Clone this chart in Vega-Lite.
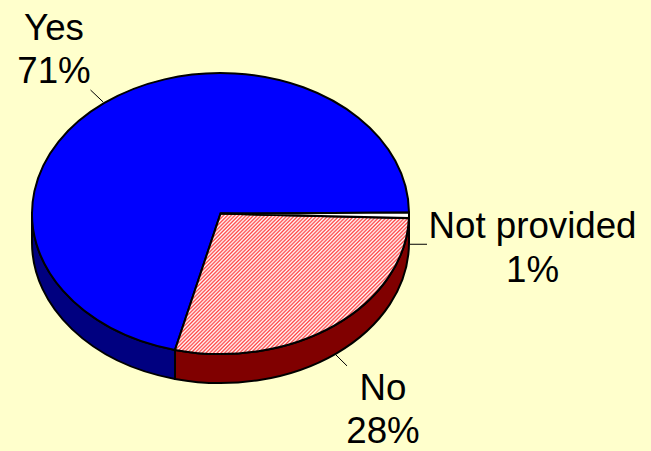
{"$schema":"https://vega.github.io/schema/vega-lite/v6.json","width":651,"height":451,"autosize":{"type":"fit","contains":"padding"},"padding":0,"background":"#FFFFCC","view":{"stroke":null},"config":{"style":{"cell":{"stroke":null}}},"data":{"values":[{"slice":"Yes","pct":71},{"slice":"No","pct":28},{"slice":"Not provided","pct":1}]},"encoding":{"x":{"datum":0,"type":"quantitative","scale":{"domain":[-220.5,430.5],"nice":false,"zero":false},"axis":null},"y":{"datum":0,"type":"quantitative","scale":{"domain":[-216,235],"reverse":true,"nice":false,"zero":false},"axis":null}},"layer":[{"transform":[{"filter":"datum.slice === 'Yes'"}],"mark":{"type":"point","filled":true,"opacity":1,"size":4,"fill":"#000080","stroke":"#000000","strokeWidth":2,"shape":"M-188.5 0 A188.5 140.5 0 0 0 -45.5 136.3 L-45.5 165.3 A188.5 140.5 0 0 1 -188.5 29 Z"}},{"transform":[{"filter":"datum.slice === 'No'"}],"mark":{"type":"point","filled":true,"opacity":1,"size":4,"fill":"#800000","stroke":"#000000","strokeWidth":2,"shape":"M-45.5 136.3 A188.5 140.5 0 0 0 188.5 0 L188.5 29 A188.5 140.5 0 0 1 -45.5 165.3 Z"}},{"transform":[{"filter":"datum.slice === 'Yes'"}],"mark":{"type":"point","filled":true,"opacity":1,"size":4,"fill":"#0000FF","stroke":"#000000","strokeWidth":2,"shape":"M0 0 L188.5 -1 A188.5 140.5 0 1 0 -45.5 136.3 Z"}},{"transform":[{"filter":"datum.slice === 'No'"}],"mark":{"type":"point","filled":true,"opacity":1,"size":4,"stroke":"#000000","strokeWidth":2,"shape":"M0 0 L-45.5 136.3 A188.5 140.5 0 0 0 188.4 4.5 Z","fill":{"gradient":"linear","x1":0,"y1":0,"x2":1.176,"y2":0.706,"stops":[{"offset":0,"color":"#fff"},{"offset":0.005,"color":"#f44"},{"offset":0.01,"color":"#fff"},{"offset":0.015,"color":"#f44"},{"offset":0.02,"color":"#fff"},{"offset":0.025,"color":"#f44"},{"offset":0.03,"color":"#fff"},{"offset":0.035,"color":"#f44"},{"offset":0.04,"color":"#fff"},{"offset":0.045,"color":"#f44"},{"offset":0.05,"color":"#fff"},{"offset":0.055,"color":"#f44"},{"offset":0.06,"color":"#fff"},{"offset":0.065,"color":"#f44"},{"offset":0.07,"color":"#fff"},{"offset":0.075,"color":"#f44"},{"offset":0.08,"color":"#fff"},{"offset":0.085,"color":"#f44"},{"offset":0.09,"color":"#fff"},{"offset":0.095,"color":"#f44"},{"offset":0.1,"color":"#fff"},{"offset":0.105,"color":"#f44"},{"offset":0.11,"color":"#fff"},{"offset":0.115,"color":"#f44"},{"offset":0.12,"color":"#fff"},{"offset":0.125,"color":"#f44"},{"offset":0.13,"color":"#fff"},{"offset":0.135,"color":"#f44"},{"offset":0.14,"color":"#fff"},{"offset":0.145,"color":"#f44"},{"offset":0.15,"color":"#fff"},{"offset":0.155,"color":"#f44"},{"offset":0.16,"color":"#fff"},{"offset":0.165,"color":"#f44"},{"offset":0.17,"color":"#fff"},{"offset":0.175,"color":"#f44"},{"offset":0.18,"color":"#fff"},{"offset":0.185,"color":"#f44"},{"offset":0.19,"color":"#fff"},{"offset":0.195,"color":"#f44"},{"offset":0.2,"color":"#fff"},{"offset":0.205,"color":"#f44"},{"offset":0.21,"color":"#fff"},{"offset":0.215,"color":"#f44"},{"offset":0.22,"color":"#fff"},{"offset":0.225,"color":"#f44"},{"offset":0.23,"color":"#fff"},{"offset":0.235,"color":"#f44"},{"offset":0.24,"color":"#fff"},{"offset":0.245,"color":"#f44"},{"offset":0.25,"color":"#fff"},{"offset":0.255,"color":"#f44"},{"offset":0.26,"color":"#fff"},{"offset":0.265,"color":"#f44"},{"offset":0.27,"color":"#fff"},{"offset":0.275,"color":"#f44"},{"offset":0.28,"color":"#fff"},{"offset":0.285,"color":"#f44"},{"offset":0.29,"color":"#fff"},{"offset":0.295,"color":"#f44"},{"offset":0.3,"color":"#fff"},{"offset":0.305,"color":"#f44"},{"offset":0.31,"color":"#fff"},{"offset":0.315,"color":"#f44"},{"offset":0.32,"color":"#fff"},{"offset":0.325,"color":"#f44"},{"offset":0.33,"color":"#fff"},{"offset":0.335,"color":"#f44"},{"offset":0.34,"color":"#fff"},{"offset":0.345,"color":"#f44"},{"offset":0.35,"color":"#fff"},{"offset":0.355,"color":"#f44"},{"offset":0.36,"color":"#fff"},{"offset":0.365,"color":"#f44"},{"offset":0.37,"color":"#fff"},{"offset":0.375,"color":"#f44"},{"offset":0.38,"color":"#fff"},{"offset":0.385,"color":"#f44"},{"offset":0.39,"color":"#fff"},{"offset":0.395,"color":"#f44"},{"offset":0.4,"color":"#fff"},{"offset":0.405,"color":"#f44"},{"offset":0.41,"color":"#fff"},{"offset":0.415,"color":"#f44"},{"offset":0.42,"color":"#fff"},{"offset":0.425,"color":"#f44"},{"offset":0.43,"color":"#fff"},{"offset":0.435,"color":"#f44"},{"offset":0.44,"color":"#fff"},{"offset":0.445,"color":"#f44"},{"offset":0.45,"color":"#fff"},{"offset":0.455,"color":"#f44"},{"offset":0.46,"color":"#fff"},{"offset":0.465,"color":"#f44"},{"offset":0.47,"color":"#fff"},{"offset":0.475,"color":"#f44"},{"offset":0.48,"color":"#fff"},{"offset":0.485,"color":"#f44"},{"offset":0.49,"color":"#fff"},{"offset":0.495,"color":"#f44"},{"offset":0.5,"color":"#fff"},{"offset":0.505,"color":"#f44"},{"offset":0.51,"color":"#fff"},{"offset":0.515,"color":"#f44"},{"offset":0.52,"color":"#fff"},{"offset":0.525,"color":"#f44"},{"offset":0.53,"color":"#fff"},{"offset":0.535,"color":"#f44"},{"offset":0.54,"color":"#fff"},{"offset":0.545,"color":"#f44"},{"offset":0.55,"color":"#fff"},{"offset":0.555,"color":"#f44"},{"offset":0.56,"color":"#fff"},{"offset":0.565,"color":"#f44"},{"offset":0.57,"color":"#fff"},{"offset":0.575,"color":"#f44"},{"offset":0.58,"color":"#fff"},{"offset":0.585,"color":"#f44"},{"offset":0.59,"color":"#fff"},{"offset":0.595,"color":"#f44"},{"offset":0.6,"color":"#fff"},{"offset":0.605,"color":"#f44"},{"offset":0.61,"color":"#fff"},{"offset":0.615,"color":"#f44"},{"offset":0.62,"color":"#fff"},{"offset":0.625,"color":"#f44"},{"offset":0.63,"color":"#fff"},{"offset":0.635,"color":"#f44"},{"offset":0.64,"color":"#fff"},{"offset":0.645,"color":"#f44"},{"offset":0.65,"color":"#fff"},{"offset":0.655,"color":"#f44"},{"offset":0.66,"color":"#fff"},{"offset":0.665,"color":"#f44"},{"offset":0.67,"color":"#fff"},{"offset":0.675,"color":"#f44"},{"offset":0.68,"color":"#fff"},{"offset":0.685,"color":"#f44"},{"offset":0.69,"color":"#fff"},{"offset":0.695,"color":"#f44"},{"offset":0.7,"color":"#fff"},{"offset":0.705,"color":"#f44"},{"offset":0.71,"color":"#fff"},{"offset":0.715,"color":"#f44"},{"offset":0.72,"color":"#fff"},{"offset":0.725,"color":"#f44"},{"offset":0.73,"color":"#fff"},{"offset":0.735,"color":"#f44"},{"offset":0.74,"color":"#fff"},{"offset":0.745,"color":"#f44"},{"offset":0.75,"color":"#fff"},{"offset":0.755,"color":"#f44"},{"offset":0.76,"color":"#fff"},{"offset":0.765,"color":"#f44"},{"offset":0.77,"color":"#fff"},{"offset":0.775,"color":"#f44"},{"offset":0.78,"color":"#fff"},{"offset":0.785,"color":"#f44"},{"offset":0.79,"color":"#fff"},{"offset":0.795,"color":"#f44"},{"offset":0.8,"color":"#fff"},{"offset":0.805,"color":"#f44"},{"offset":0.81,"color":"#fff"},{"offset":0.815,"color":"#f44"},{"offset":0.82,"color":"#fff"},{"offset":0.825,"color":"#f44"},{"offset":0.83,"color":"#fff"},{"offset":0.835,"color":"#f44"},{"offset":0.84,"color":"#fff"},{"offset":0.845,"color":"#f44"},{"offset":0.85,"color":"#fff"},{"offset":0.855,"color":"#f44"},{"offset":0.86,"color":"#fff"},{"offset":0.865,"color":"#f44"},{"offset":0.87,"color":"#fff"},{"offset":0.875,"color":"#f44"},{"offset":0.88,"color":"#fff"},{"offset":0.885,"color":"#f44"},{"offset":0.89,"color":"#fff"},{"offset":0.895,"color":"#f44"},{"offset":0.9,"color":"#fff"},{"offset":0.905,"color":"#f44"},{"offset":0.91,"color":"#fff"},{"offset":0.915,"color":"#f44"},{"offset":0.92,"color":"#fff"},{"offset":0.925,"color":"#f44"},{"offset":0.93,"color":"#fff"},{"offset":0.935,"color":"#f44"},{"offset":0.94,"color":"#fff"},{"offset":0.945,"color":"#f44"},{"offset":0.95,"color":"#fff"},{"offset":0.955,"color":"#f44"},{"offset":0.96,"color":"#fff"},{"offset":0.965,"color":"#f44"},{"offset":0.97,"color":"#fff"},{"offset":0.975,"color":"#f44"},{"offset":0.98,"color":"#fff"},{"offset":0.985,"color":"#f44"},{"offset":0.99,"color":"#fff"},{"offset":0.995,"color":"#f44"},{"offset":1,"color":"#fff"}]}}},{"transform":[{"filter":"datum.slice === 'Not provided'"}],"mark":{"type":"point","filled":true,"opacity":1,"size":4,"fill":"#FFFFFF","stroke":"#000000","strokeWidth":2,"shape":"M0 0 L188.4 4.5 A188.5 140.5 0 0 0 188.5 -1 Z"}},{"transform":[{"filter":"datum.slice === 'Yes'"}],"mark":{"type":"rule","stroke":"#000000","strokeWidth":1},"encoding":{"x":{"datum":-130},"y":{"datum":-125},"x2":{"datum":-117.5},"y2":{"datum":-113}}},{"transform":[{"filter":"datum.slice === 'No'"}],"mark":{"type":"rule","stroke":"#000000","strokeWidth":1},"encoding":{"x":{"datum":114.5},"y":{"datum":142},"x2":{"datum":126.5},"y2":{"datum":154}}},{"transform":[{"filter":"datum.slice === 'Not provided'"}],"mark":{"type":"rule","stroke":"#000000","strokeWidth":1},"encoding":{"x":{"datum":189.5},"y":{"datum":31},"x2":{"datum":206.5},"y2":{"datum":31}}},{"transform":[{"filter":"datum.slice === 'Yes'"},{"calculate":"datum.slice + '\\n' + datum.pct + '%'","as":"label"}],"mark":{"type":"text","font":"Liberation Sans","fontSize":36.7,"lineBreak":"\n","lineHeight":43.7,"align":"center","baseline":"alphabetic","color":"#000000"},"encoding":{"x":{"datum":-166.5},"y":{"datum":-176},"text":{"field":"label"}}},{"transform":[{"filter":"datum.slice === 'No'"},{"calculate":"datum.slice + '\\n' + datum.pct + '%'","as":"label"}],"mark":{"type":"text","font":"Liberation Sans","fontSize":36.7,"lineBreak":"\n","lineHeight":43.7,"align":"center","baseline":"alphabetic","color":"#000000"},"encoding":{"x":{"datum":162.5},"y":{"datum":188},"text":{"field":"label"}}},{"transform":[{"filter":"datum.slice === 'Not provided'"},{"calculate":"datum.slice + '\\n' + datum.pct + '%'","as":"label"}],"mark":{"type":"text","font":"Liberation Sans","fontSize":36.7,"lineBreak":"\n","lineHeight":43.7,"align":"center","baseline":"alphabetic","color":"#000000"},"encoding":{"x":{"datum":312},"y":{"datum":25},"text":{"field":"label"}}}]}
